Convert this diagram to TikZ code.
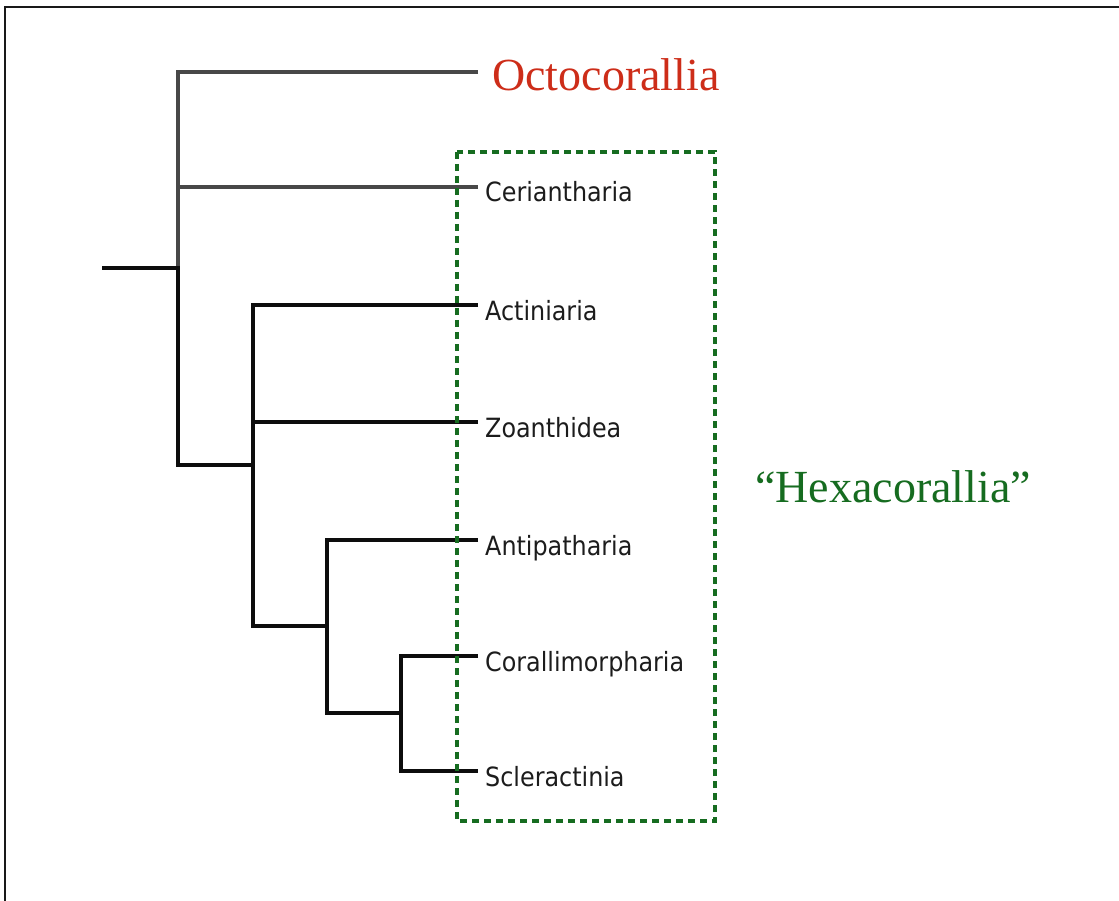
\documentclass[tikz,border=0pt]{standalone}
\usepackage{fontspec}
\setmainfont{Liberation Serif}
\newfontfamily\taxonfont{DejaVu Sans Condensed}
\definecolor{octored}{RGB}{205,45,25}
\definecolor{hexgreen}{RGB}{22,108,32}
\definecolor{stemgray}{RGB}{72,72,72}
\definecolor{taxonink}{RGB}{28,28,28}
\begin{document}
\begin{tikzpicture}[x=1pt,y=-1pt,
  branch/.style={line width=4pt, line join=miter, draw=black!95},
  graybranch/.style={branch, draw=stemgray},
  taxon/.style={anchor=west, inner xsep=7pt, inner ysep=0pt,
    text height=30pt, text depth=0pt, text=taxonink,
    font=\taxonfont\fontsize{26.5}{26.5}\selectfont},
  cladename/.style={anchor=west, inner xsep=14pt, inner ysep=0pt,
    text height=38pt, text depth=0pt, font=\fontsize{46}{46}\selectfont},
  hexbox/.style={draw=hexgreen, line width=3.6pt, dash pattern=on 7pt off 5pt}
]
\useasboundingbox (0,0) rectangle (1119,901);
% page frame
\draw[line width=2pt, draw=black!90] (5,901) -- (5,7) -- (1119,7);

% internal nodes of the tree
\coordinate (root) at (102,268);
\coordinate (n1) at (178,268);
\coordinate (n2) at (253,465);
\coordinate (n3) at (327,626);
\coordinate (n4) at (401,713);

% tip labels
\node[cladename, text=octored] (octo) at (478,72) {Octocorallia};
\node[taxon] (ceri) at (478,187) {Ceriantharia};
\node[taxon] (acti) at (478,305) {Actiniaria};
\node[taxon] (zoan) at (478,422) {Zoanthidea};
\node[taxon] (anti) at (478,540) {Antipatharia};
\node[taxon] (cora) at (478,656) {Corallimorpharia};
\node[taxon] (scle) at (478,771) {Scleractinia};

% outgroup branches
\draw[graybranch] (octo.west) -| (n1);
\draw[graybranch] (ceri.west) -- (ceri.west -| n1);

% ingroup branches
\draw[branch] (root) -- (n1) |- (n2);
\draw[branch] (acti.west) -| (n2) |- (n3);
\draw[branch] (zoan.west) -- (zoan.west -| n2);
\draw[branch] (anti.west) -| (n3) |- (n4);
\draw[branch] (cora.west) -| (n4) |- (scle.west);

% Hexacorallia grouping
\draw[hexbox] (457,152) rectangle (715,821);
\node[anchor=base west, inner sep=0pt, text=hexgreen, font=\fontsize{46}{46}\selectfont]
  (hexa) at (755,502) {``Hexacorallia''};
\end{tikzpicture}
\end{document}
